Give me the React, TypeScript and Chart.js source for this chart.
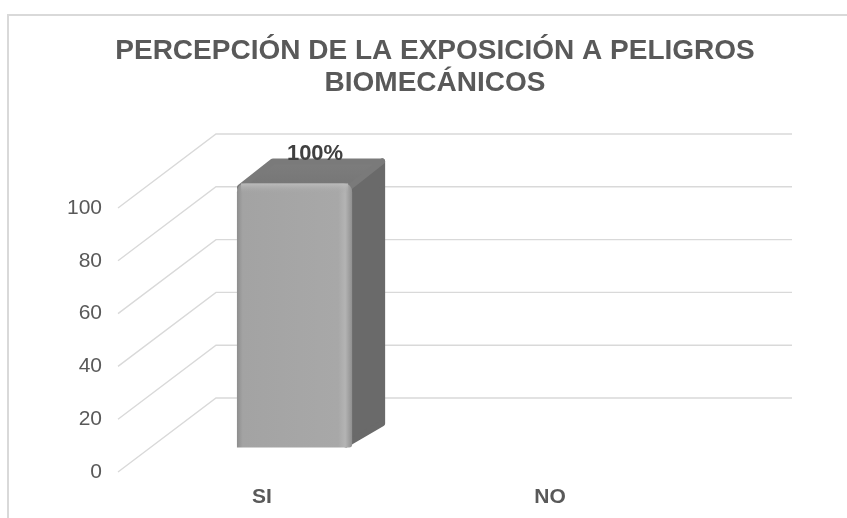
import React, { useEffect, useRef } from "react";
import { Chart, registerables } from "chart.js";

Chart.register(...registerables);

const categories = ["SI", "NO"];
const values = [100, 0];
const yTicks = [0, 20, 40, 60, 80, 100];
const titleLines = ["PERCEPCIÓN DE LA EXPOSICIÓN A PELIGROS", "BIOMECÁNICOS"];

const FONT = "'Liberation Sans', Arial, sans-serif";
const DEPTH_X = 98;
const DEPTH_Y = -74;
const BAR_SHIFT = 0.332;
const BAR_DX = 33;
const BAR_DY = -25;

const frame3d = {
  id: "frame3d",
  beforeDraw(chart: any) {
    const ctx = chart.ctx;
    ctx.save();
    ctx.strokeStyle = "#d9d9d9";
    ctx.lineWidth = 2;
    ctx.strokeRect(8, 15, 950, 600);
    ctx.restore();
  },
  beforeDatasetsDraw(chart: any) {
    const ctx = chart.ctx;
    const { left, right } = chart.chartArea;
    const ys = chart.scales.y;
    ctx.save();
    ctx.strokeStyle = "#d9d9d9";
    ctx.lineWidth = 1.4;
    yTicks.forEach((v) => {
      const y = ys.getPixelForValue(v);
      ctx.beginPath();
      ctx.moveTo(left, y);
      ctx.lineTo(left + DEPTH_X, y + DEPTH_Y);
      ctx.lineTo(right + DEPTH_X, y + DEPTH_Y);
      ctx.stroke();
    });
    ctx.restore();
  },
  afterDatasetsDraw(chart: any) {
    const ctx = chart.ctx;
    const meta = chart.getDatasetMeta(0);
    meta.data.forEach((bar: any, i: number) => {
      const v = values[i];
      if (!v) return;
      const sx = DEPTH_X * BAR_SHIFT;
      const sy = DEPTH_Y * BAR_SHIFT;
      const xL = bar.x - bar.width / 2 + sx;
      const xR = bar.x + bar.width / 2 + sx;
      const yT = bar.y + sy;
      const yB = bar.base + sy;
      ctx.save();
      ctx.lineJoin = "round";
      // side face
      ctx.beginPath();
      ctx.moveTo(xR - 6, yT + 2);
      ctx.lineTo(xR + BAR_DX - 3, yT + BAR_DY + 3);
      ctx.lineTo(xR + BAR_DX - 3, yB + BAR_DY + 1);
      ctx.lineTo(xR - 6, yB - 3);
      ctx.closePath();
      ctx.fillStyle = "#6a6a6a";
      ctx.strokeStyle = "#6a6a6a";
      ctx.lineWidth = 6;
      ctx.fill();
      ctx.stroke();
      // top face
      ctx.beginPath();
      ctx.moveTo(xL + 3, yT + 4);
      ctx.lineTo(xL + BAR_DX + 3, yT + BAR_DY + 3);
      ctx.lineTo(xR + BAR_DX - 3, yT + BAR_DY + 3);
      ctx.lineTo(xR - 3, yT + 4);
      ctx.closePath();
      const tg = ctx.createLinearGradient(0, yT + BAR_DY, 0, yT);
      tg.addColorStop(0, "#7e7e7e");
      tg.addColorStop(1, "#777777");
      ctx.fillStyle = tg;
      ctx.strokeStyle = "#7a7a7a";
      ctx.fill();
      ctx.stroke();
      // front face
      const r = 9;
      ctx.beginPath();
      ctx.moveTo(xL, yB);
      ctx.lineTo(xL, yT + r);
      ctx.quadraticCurveTo(xL, yT, xL + r, yT);
      ctx.lineTo(xR - r, yT);
      ctx.quadraticCurveTo(xR, yT, xR, yT + r);
      ctx.lineTo(xR, yB - 3);
      ctx.quadraticCurveTo(xR, yB, xR - 3, yB);
      ctx.closePath();
      const fg = ctx.createLinearGradient(xL, 0, xR, 0);
      fg.addColorStop(0, "#8d8d8d");
      fg.addColorStop(0.05, "#a3a3a3");
      fg.addColorStop(0.88, "#a8a8a8");
      fg.addColorStop(0.94, "#b4b4b4");
      fg.addColorStop(1, "#8f8f8f");
      ctx.fillStyle = fg;
      ctx.fill();
      // top highlight
      const hg = ctx.createLinearGradient(0, yT, 0, yT + 10);
      hg.addColorStop(0, "rgba(190,190,190,0.9)");
      hg.addColorStop(1, "rgba(166,166,166,0)");
      ctx.fillStyle = hg;
      ctx.fillRect(xL + 4, yT, xR - xL - 8, 10);
      // label
      ctx.fillStyle = "#404040";
      ctx.font = `bold 22px ${FONT}`;
      ctx.textAlign = "center";
      ctx.textBaseline = "middle";
      ctx.fillText(v + "%", (xL + xR) / 2 + BAR_DX / 2 + 4, yT + BAR_DY - 4);
      ctx.restore();
    });
  },
};

export default function App() {
  const ref = useRef<HTMLCanvasElement>(null);
  useEffect(() => {
    if (!ref.current) return;
    const chart = new Chart(ref.current, {
      type: "bar",
      data: {
        labels: categories,
        datasets: [
          {
            data: values,
            backgroundColor: "rgba(0,0,0,0)",
            borderWidth: 0,
            categoryPercentage: 1,
            barPercentage: 0.4,
          },
        ],
      },
      options: {
        responsive: false,
        animation: false,
        devicePixelRatio: 1,
        layout: { padding: 0 },
        plugins: {
          legend: { display: false },
          tooltip: { enabled: false },
          title: {
            display: true,
            text: titleLines,
            color: "#595959",
            font: { family: FONT, size: 28, weight: "bold", lineHeight: 1.15 },
            padding: { top: 35, bottom: 108.6 },
          },
        },
        scales: {
          x: {
            grid: { display: false, drawTicks: false },
            border: { display: false },
            ticks: {
              color: "#595959",
              font: { family: FONT, size: 21, weight: "bold" },
              padding: 13,
            },
            afterFit: (s: any) => {
              s.height = 46;
            },
          },
          y: {
            min: 0,
            max: 100,
            grid: { display: false, drawTicks: false },
            border: { display: false },
            ticks: {
              stepSize: 20,
              color: "#595959",
              font: { family: FONT, size: 21 },
              padding: 16,
            },
            afterFit: (s: any) => {
              s.width = 118;
            },
          },
          y2: {
            position: "right",
            grid: { display: false, drawTicks: false },
            border: { display: false },
            ticks: { display: false },
            afterFit: (s: any) => {
              s.width = 176;
            },
          },
        },
      },
      plugins: [frame3d],
    });
    return () => chart.destroy();
  }, []);
  return (
    <div style={{ position: "absolute", left: 0, top: 0, width: 847, height: 518, overflow: "hidden", background: "#fff" }}>
      <canvas ref={ref} width={870} height={518} style={{ display: "block", width: 870, height: 518 }} />
    </div>
  );
}
